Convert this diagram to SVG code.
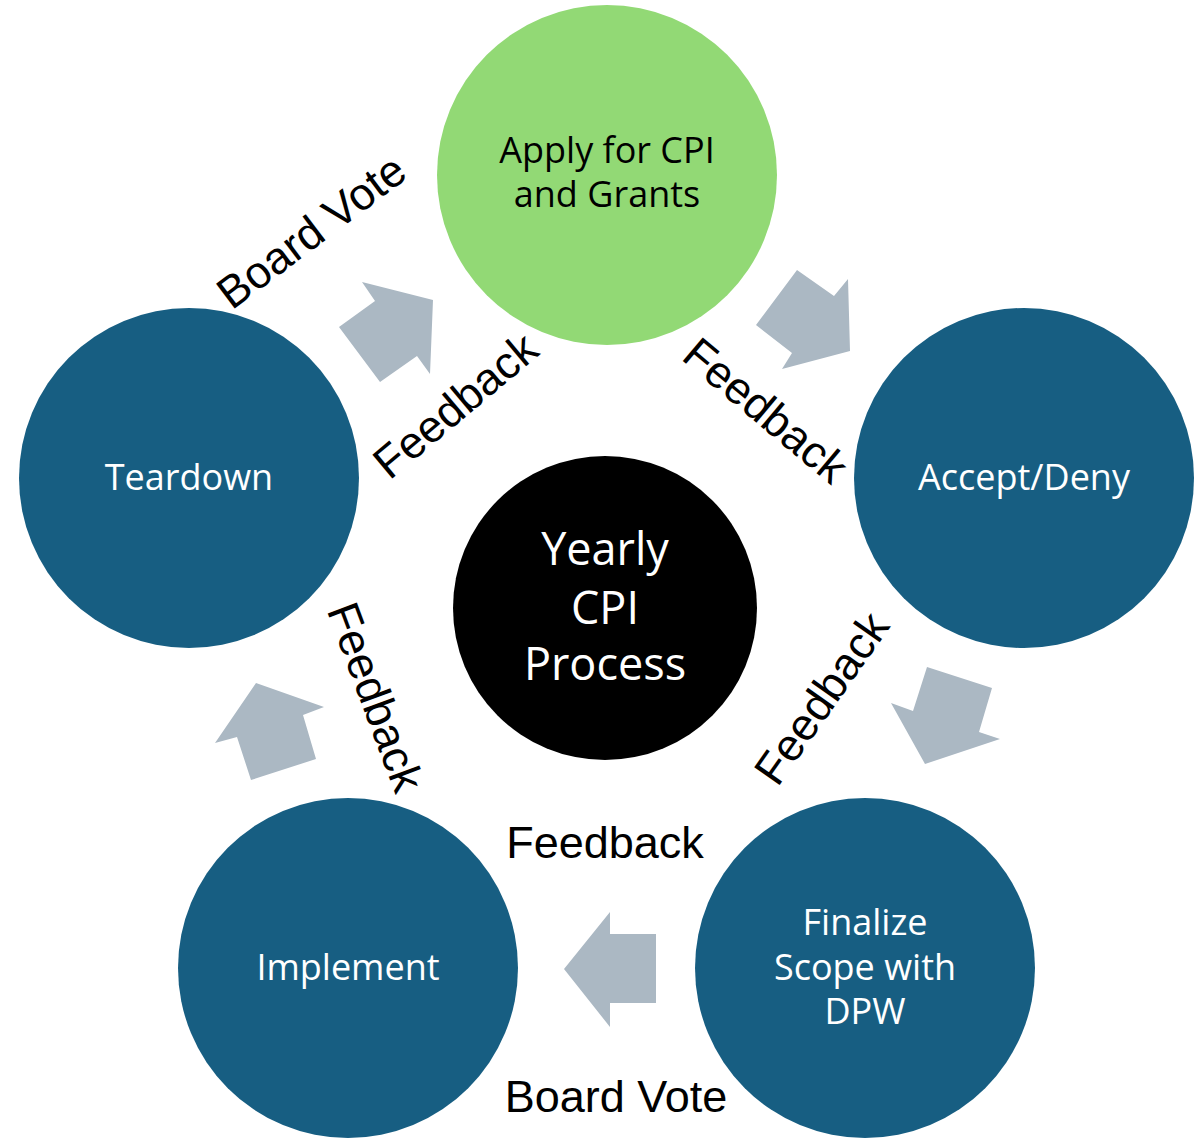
<svg xmlns="http://www.w3.org/2000/svg" width="1203" height="1138" viewBox="0 0 1203 1138">
<style>
.blue{fill:#175E82}
.green{fill:#92D975}
.arrow{fill:#ABB8C3}
.nt{font-family:"Open Sans","Noto Sans",sans-serif;font-size:36px;text-anchor:middle;fill:#FFFFFF}
.nt.dark{fill:#000000}
.ct{font-family:"Open Sans","Noto Sans",sans-serif;font-size:45px;text-anchor:middle;fill:#FFFFFF}
.lbl{font-family:"Liberation Sans",Arial,sans-serif;font-size:45px;text-anchor:middle;fill:#000000}
</style>
<rect width="1203" height="1138" fill="#FFFFFF"/>
<g id="connectors">
<polygon class="arrow" points="362,282 433,300 430,374 417,356 380,382 339,327 375,301"/>
<polygon class="arrow" points="797,270 834,296 848,279 850,351 782,369 792,353 756,325"/>
<polygon class="arrow" points="927,667 992,688 979,732 1000,739 925,764 891,703 913,711"/>
<polygon class="arrow" points="610,912 610,934 656,934 656,1003 610,1003 610,1027 564,969"/>
<polygon class="arrow" points="256,683 324,707 303,715 316,759 251,780 237,737 215,743"/>
</g>
<g id="labels">
<text class="lbl" transform="translate(311,231) rotate(-37)" y="16">Board Vote</text>
<text class="lbl" transform="translate(455,405) rotate(-40)" y="16">Feedback</text>
<text class="lbl" transform="translate(766,410) rotate(40)" y="16">Feedback</text>
<text class="lbl" transform="translate(821,698) rotate(-55)" y="16">Feedback</text>
<text class="lbl" transform="translate(376,697) rotate(69.5)" y="16">Feedback</text>
<text class="lbl" x="605" y="858">Feedback</text>
<text class="lbl" x="616" y="1112">Board Vote</text>
</g>
<g id="node-apply">
<circle class="green" cx="607" cy="175" r="170"/>
<text class="nt dark" x="607" y="163">Apply for CPI</text>
<text class="nt dark" x="607" y="207">and Grants</text>
</g>
<g id="node-accept">
<circle class="blue" cx="1024" cy="478" r="170"/>
<text class="nt" x="1024" y="490">Accept/Deny</text>
</g>
<g id="node-finalize">
<circle class="blue" cx="865" cy="968" r="170"/>
<text class="nt" x="865" y="935">Finalize</text>
<text class="nt" x="865" y="980">Scope with</text>
<text class="nt" x="865" y="1024">DPW</text>
</g>
<g id="node-implement">
<circle class="blue" cx="348" cy="968" r="170"/>
<text class="nt" x="348" y="980">Implement</text>
</g>
<g id="node-teardown">
<circle class="blue" cx="189" cy="478" r="170"/>
<text class="nt" x="189" y="490">Teardown</text>
</g>
<g id="node-center">
<circle fill="#000000" cx="605" cy="608" r="152"/>
<text class="ct" x="605" y="565">Yearly</text>
<text class="ct" x="605" y="624">CPI</text>
<text class="ct" x="605" y="680">Process</text>
</g>
</svg>
